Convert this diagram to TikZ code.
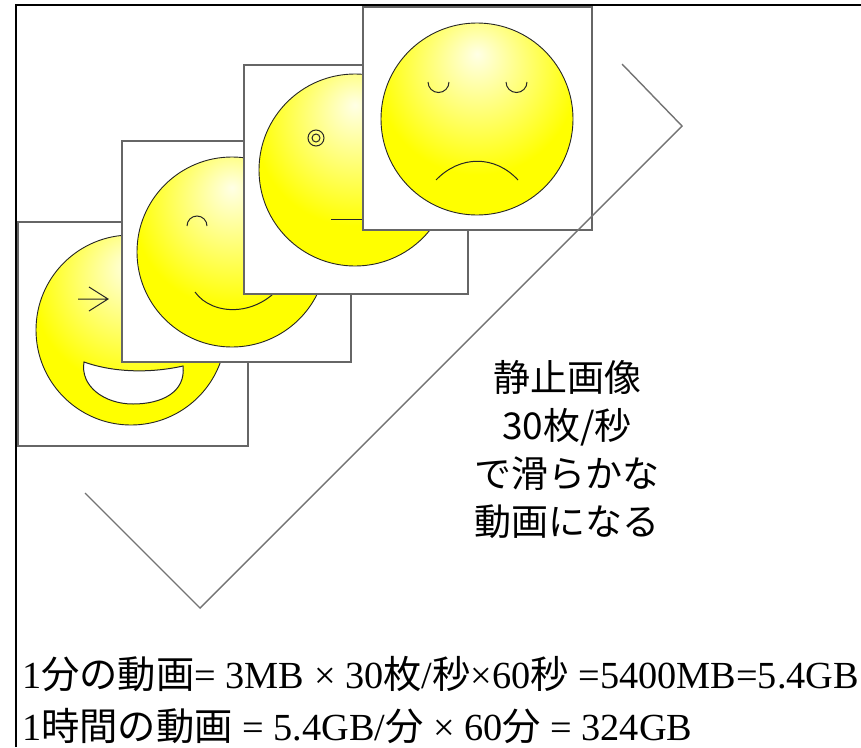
\documentclass[tikz,border=0pt]{standalone}
\usepackage{fontspec}
\setmainfont{Liberation Serif}
\newfontfamily\cjk{Noto Sans CJK JP}

% light spot near the top of each face
\pgfdeclareradialshading{facelight}{\pgfpoint{0bp}{17bp}}{%
  color(0bp)=(yellow!10!white); color(10bp)=(yellow!45!white);
  color(26bp)=(yellow); color(80bp)=(yellow)}

\begin{document}
\begin{tikzpicture}[x=1pt,y=-1pt,
    frame/.style={draw=black!60, line width=1.6pt, fill=white},
    face/.style={draw=black!85, line width=0.9pt, shading=facelight},
    feat/.style={draw=black!85, line width=1pt},
    vline/.style={draw=black!55, line width=1.4pt}]
    \useasboundingbox (0,0) rectangle (861,747);
    \draw[line width=2pt] (16,747) -- (16,5) -- (861,5);

    % first frame: grin
    \draw[frame] (18,222) rectangle (248,446);
    \shadedraw[face] (131,330) circle (95);
    \draw[feat] (78,299) -- (108,299) (89,287) -- (108,299) -- (89,311);
    \draw[feat, fill=white] (84,362) .. controls (115,373) and (152,373) .. (183,366)
        .. controls (186,392) and (162,404) .. (133,404)
        .. controls (104,404) and (80,386) .. (84,362) -- cycle;

    % second frame: wink
    \draw[frame] (122,141) rectangle (351,362);
    \shadedraw[face] (232,252) circle (95);
    \draw[feat] (187,226) arc (180:360:10);
    \draw[feat] (195,292) .. controls (212,316) and (258,318) .. (284,282);

    % third frame: flat
    \draw[frame] (244,65) rectangle (468,294);
    \shadedraw[face] (355,170) circle (96);
    \draw[feat] (316,138) circle (8) (316,138) circle (4);
    \draw[feat] (331,219) -- (380,219);

    % fourth frame: sad
    \draw[frame] (363,7) rectangle (592,230);
    \shadedraw[face] (477,119) circle (96);
    \draw[feat] (428,82) arc (180:0:10.5) (506,82) arc (180:0:10.5);
    \draw[feat] (436,180) .. controls (460,155) and (495,155) .. (518,180);

    % big check mark
    \draw[vline] (85,493) -- (200,608) -- (682,126) -- (622,64);

    \node[align=center, font=\cjk\fontsize{37}{48}\selectfont] (caption) at (567,450)
        {静止画像\\30枚/秒\\で滑らかな\\動画になる};

    \node[anchor=base west, inner sep=0pt, font=\fontsize{38.3}{44}\selectfont] (perminute) at (22,688)
        {1{\cjk 分の動画}= 3MB × 30{\cjk 枚}/{\cjk 秒}×60{\cjk 秒} =5400MB=5.4GB};
    \node[anchor=base west, inner sep=0pt, font=\fontsize{38.3}{44}\selectfont] (perhour) at (22,740)
        {1{\cjk 時間の動画} = 5.4GB/{\cjk 分} × 60{\cjk 分} = 324GB};
\end{tikzpicture}
\end{document}
